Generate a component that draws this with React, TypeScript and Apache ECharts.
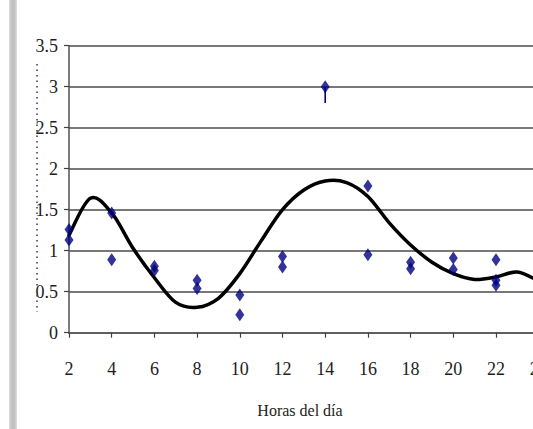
import React, { useEffect, useRef } from "react";
import * as echarts from "echarts";

// Observations (hour of day, value)
const obsHours = [2, 2, 4, 4, 6, 6, 8, 8, 10, 10, 12, 12, 14, 16, 16, 18, 18, 20, 20, 22, 22, 22];
const obsValues = [1.26, 1.13, 1.46, 0.89, 0.81, 0.76, 0.64, 0.54, 0.46, 0.22, 0.93, 0.8, 3.0, 1.79, 0.95, 0.86, 0.78, 0.91, 0.77, 0.89, 0.64, 0.58];

// small stem under the 14 h point
const stemHours = [14, 14];
const stemValues = [3.0, 2.8];

// Trend line, one reading per hour
const trendHours = [2, 3, 4, 5, 6, 7, 8, 9, 10, 11, 12, 13, 14, 15, 16, 17, 18, 19, 20, 21, 22, 23, 24];
const trendValues = [1.19, 1.64, 1.46, 1.03, 0.67, 0.37, 0.31, 0.42, 0.72, 1.12, 1.5, 1.74, 1.85, 1.83, 1.66, 1.34, 1.07, 0.86, 0.72, 0.65, 0.68, 0.74, 0.63];

const xMin = 2;
const xMax = 26;
const xStep = 2;
const yMin = 0;
const yMax = 3.5;
const yStep = 0.5;
const xTitle = "Horas del día";

const serif = "Liberation Serif";
const labelColor = "#221d18";
const markColor = "#000080";

export default function App() {
  const ref = useRef<HTMLDivElement>(null);

  useEffect(() => {
    if (!ref.current) return;
    const chart = echarts.init(ref.current, undefined, { renderer: "svg" });
    const obs = obsHours.map((h, i) => [h, obsValues[i]]);
    const stem = stemHours.map((h, i) => [h, stemValues[i]]);
    const trend = trendHours.map((h, i) => [h, trendValues[i]]);

    // Smooth Catmull-Rom curve through the trend readings, in pixel space
    const renderTrend = (params: any, api: any) => {
      if (params.dataIndex !== 0) return null;
      const pts = trend.map((p) => api.coord(p));
      const n = pts.length;
      const P = (i: number) => pts[Math.max(0, Math.min(n - 1, i))];
      let d = `M${pts[0][0]},${pts[0][1]}`;
      for (let i = 0; i < n - 1; i++) {
        const p0 = P(i - 1), p1 = P(i), p2 = P(i + 1), p3 = P(i + 2);
        const c1x = p1[0] + (p2[0] - p0[0]) / 6;
        const c1y = p1[1] + (p2[1] - p0[1]) / 6;
        const c2x = p2[0] - (p3[0] - p1[0]) / 6;
        const c2y = p2[1] - (p3[1] - p1[1]) / 6;
        d += ` C${c1x},${c1y} ${c2x},${c2y} ${p2[0]},${p2[1]}`;
      }
      return {
        type: "path",
        shape: { pathData: d },
        style: { fill: "none", stroke: "#000000", lineWidth: 3.5, lineJoin: "round", lineCap: "round" },
      };
    };

    chart.setOption({
      animation: false,
      backgroundColor: "#ffffff",
      grid: { left: 69, top: 45.7, width: 512.4, height: 287, containLabel: false },
      xAxis: {
        type: "value",
        min: xMin,
        max: xMax,
        interval: xStep,
        axisLine: { show: true, onZero: false, lineStyle: { color: "#606060", width: 2 } },
        axisTick: { show: true, inside: false, length: 5, lineStyle: { color: "#404040", width: 1.2 } },
        axisLabel: { margin: 27, color: labelColor, fontFamily: serif, fontSize: 18 },
        splitLine: { show: false },
      },
      yAxis: {
        type: "value",
        min: yMin,
        max: yMax,
        interval: yStep,
        axisLine: { show: true, lineStyle: { color: "#505050", width: 1.5 } },
        axisTick: { show: true, inside: false, length: 5, lineStyle: { color: "#404040", width: 1.2 } },
        axisLabel: { margin: 11, color: labelColor, fontFamily: serif, fontSize: 18 },
        splitLine: { show: true, lineStyle: { color: "#787878", width: 2 } },
      },
      graphic: [
        { type: "rect", shape: { x: 9, y: 0, width: 8, height: 429 }, style: { fill: "#dadada" }, z: 10 },
        { type: "rect", shape: { x: 10.5, y: 0, width: 5, height: 429 }, style: { fill: "#c2c2c2" }, z: 11 },
        {
          type: "line",
          shape: { x1: 37, y1: 64, x2: 37, y2: 312 },
          style: { stroke: "#4a5885", lineWidth: 1.8, lineDash: [1.5, 4] },
          z: 10,
        },
        {
          type: "text",
          x: 300,
          y: 410,
          style: {
            text: xTitle,
            fill: labelColor,
            fontFamily: serif,
            fontSize: 16,
            align: "center",
            verticalAlign: "middle",
          },
          z: 10,
        },
      ],
      series: [
        {
          type: "custom",
          data: trend,
          renderItem: renderTrend,
          z: 3,
          silent: true,
        },
        {
          type: "line",
          data: stem,
          showSymbol: false,
          symbol: "none",
          lineStyle: { color: markColor, width: 1.6 },
          z: 4,
        },
        {
          type: "scatter",
          data: obs,
          symbol: "diamond",
          symbolSize: [9, 13],
          itemStyle: { color: markColor },
          z: 5,
        },
      ],
    });
    return () => chart.dispose();
  }, []);

  return (
    <div style={{ position: "absolute", left: 0, top: 0, width: 533, height: 429, overflow: "hidden", background: "#fff" }}>
      <div ref={ref} style={{ width: 600, height: 429 }} />
    </div>
  );
}
